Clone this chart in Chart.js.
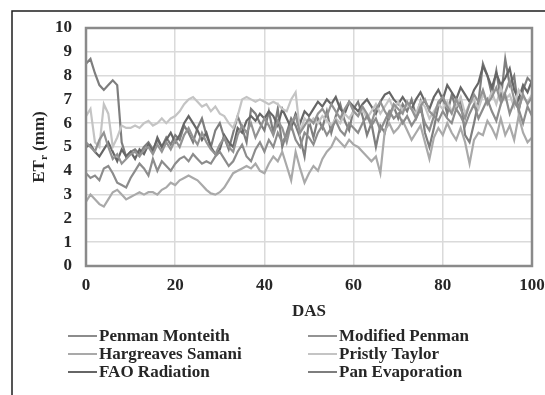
<!DOCTYPE html>
<html>
<head>
<meta charset="utf-8">
<script src="https://cdn.jsdelivr.net/npm/chart.js@4"></script>
<style>
html,body{margin:0;padding:0;background:#fff;}
#wrap{position:relative;width:545px;height:395px;}
</style>
</head>
<body>
<div id="wrap"><canvas id="c" width="545" height="395"></canvas></div>
<script>
// ---- DATA ----
const days = Array.from({length: 101}, (_, i) => i); // DAS 0..100 categories
const xTicks = [0, 20, 40, 60, 80, 100];
const yTicks = [0, 1, 2, 3, 4, 5, 6, 7, 8, 9, 10];
const seriesNames = ["Penman Monteith", "Modified Penman", "Hargreaves Samani", "Pristly Taylor", "FAO Radiation", "Pan Evaporation"];

const penmanMonteith = [
  3.9,3.7,3.8,3.6,4.1,4.2,3.9,3.5,3.4,3.3,3.7,
  4.0,4.3,4.1,3.8,4.5,4.0,4.4,4.2,4.0,4.3,
  4.5,4.6,4.4,4.7,4.5,4.3,4.4,4.3,4.6,4.8,
  4.5,4.2,4.4,4.8,5.1,4.6,4.4,4.9,5.2,4.8,
  5.3,5.0,5.6,5.2,5.5,5.9,5.3,5.0,5.6,5.4,
  5.1,5.6,5.9,5.5,5.8,6.1,5.7,5.5,6.0,5.8,
  5.6,6.0,6.3,5.9,6.2,5.7,6.1,6.5,6.2,6.4,
  6.0,6.3,5.9,6.2,6.6,6.0,5.7,6.3,6.1,6.5,
  6.2,6.0,6.6,6.3,5.9,6.4,6.8,6.2,6.6,7.0,
  6.5,6.1,6.8,7.2,6.4,6.9,6.6,6.0,6.7,6.3
];
const modifiedPenman = [
  5.2,5.0,4.8,5.3,5.6,5.0,4.5,4.7,4.3,4.5,4.7,
  4.8,4.6,4.9,5.0,4.7,5.1,4.8,5.2,4.9,5.3,
  5.0,5.5,5.8,5.4,5.1,5.6,5.2,4.9,4.7,5.1,
  5.4,5.0,4.8,5.5,5.9,5.6,6.0,5.4,5.8,6.2,
  5.9,5.5,6.1,5.8,5.2,6.0,6.3,5.6,5.9,6.2,
  6.0,6.4,6.6,6.3,6.8,6.5,6.2,6.6,6.9,6.5,
  6.3,6.7,6.4,6.0,6.6,6.9,6.5,6.2,6.8,6.6,
  6.4,6.9,6.6,6.2,6.7,7.0,6.5,6.3,6.9,7.1,
  6.7,6.4,7.0,6.6,6.2,6.8,7.2,6.9,7.4,6.8,
  7.1,7.5,6.9,7.3,7.8,7.0,6.6,7.2,6.8,7.1
];
const hargreavesSamani = [
  2.7,3.0,2.8,2.6,2.5,2.8,3.1,3.2,3.0,2.8,2.9,
  3.0,3.1,3.0,3.1,3.1,3.0,3.2,3.3,3.5,3.4,
  3.6,3.7,3.8,3.7,3.6,3.4,3.2,3.05,3.0,3.1,
  3.3,3.6,3.9,4.0,4.1,4.2,4.1,4.3,4.0,3.9,
  4.3,4.6,4.4,4.8,4.2,3.6,4.8,4.1,3.5,3.9,
  4.2,4.0,4.5,4.8,5.0,5.4,5.2,5.0,5.3,5.1,
  5.0,4.8,4.6,4.4,4.6,3.9,5.7,6.0,5.6,5.8,
  6.1,5.7,5.3,5.6,5.9,5.2,4.5,5.4,5.8,5.5,
  6.0,5.6,5.3,5.8,5.2,4.3,5.3,5.6,5.5,6.1,
  5.8,5.4,6.2,5.5,5.9,5.3,6.3,5.6,5.2,5.4
];
const pristlyTaylor = [
  6.3,6.6,5.2,5.0,6.8,6.4,5.0,5.4,5.9,5.8,5.8,
  5.9,5.8,6.0,6.1,5.9,6.0,6.2,6.0,6.2,6.3,
  6.5,6.8,7.0,7.1,6.9,6.7,6.8,6.5,6.7,6.4,
  6.3,6.0,5.8,6.3,7.0,7.1,7.0,6.9,7.0,6.9,
  6.8,6.9,6.8,6.6,6.5,7.0,7.3,5.6,6.2,6.0,
  6.2,6.0,6.3,6.1,5.9,6.2,6.0,6.4,6.2,6.5,
  6.3,6.6,6.2,6.5,6.8,6.4,6.7,7.0,6.6,6.9,
  6.5,6.8,6.6,6.4,6.9,6.7,6.2,6.5,6.8,6.6,
  6.9,6.5,6.7,7.1,6.4,6.8,7.0,6.6,7.2,6.9,
  7.3,6.8,7.5,7.0,7.2,6.7,7.4,7.1,6.9,7.2
];
const faoRadiation = [
  5.0,5.1,4.8,4.6,4.9,5.2,4.8,4.4,4.9,4.6,4.8,
  4.5,4.9,4.7,5.1,4.8,5.4,5.0,5.3,5.6,5.2,
  5.5,6.0,6.3,6.0,5.7,5.3,5.6,5.0,4.7,4.9,
  5.5,5.2,5.0,5.8,5.6,6.1,6.3,6.1,6.4,6.2,
  6.5,6.3,5.9,6.6,6.2,5.8,6.4,6.0,6.5,6.3,
  6.6,6.9,6.7,7.0,6.8,7.1,6.6,6.4,6.9,6.7,
  6.5,6.8,7.0,6.7,6.4,6.9,7.2,7.3,7.0,6.8,
  7.1,6.8,6.6,7.0,7.3,6.9,6.6,7.1,7.4,7.0,
  7.6,7.3,7.0,7.5,7.2,6.9,7.4,7.7,8.4,8.0,
  7.5,8.1,7.6,7.9,8.3,7.4,7.0,7.6,7.3,7.8
];
const panEvaporation = [
  8.5,8.7,8.1,7.6,7.4,7.6,7.8,7.6,5.2,4.6,4.8,
  4.9,4.7,5.0,5.2,4.9,5.3,5.0,5.4,5.1,5.5,
  5.3,5.9,5.6,5.2,5.8,6.2,5.5,5.0,5.7,6.0,
  5.4,4.9,5.6,6.3,5.8,5.2,6.6,6.4,6.0,5.7,
  6.5,5.6,6.6,5.0,5.6,6.2,5.9,5.4,4.6,6.1,
  5.4,6.2,5.8,6.5,5.6,6.3,6.8,6.1,5.7,6.6,
  6.9,6.3,5.5,6.0,5.0,5.9,5.6,6.4,6.7,6.2,
  6.8,6.5,7.0,6.3,6.9,5.6,5.0,5.8,6.7,7.1,
  6.4,7.2,6.6,7.0,5.5,5.2,6.0,6.9,8.5,8.0,
  7.2,8.2,7.0,8.7,7.6,8.0,6.5,7.4,7.9,7.7
];
const seriesValues = [penmanMonteith, modifiedPenman, hargreavesSamani, pristlyTaylor, faoRadiation, panEvaporation];
const seriesColors = ["#8c8c8c", "#939393", "#a9a9a9", "#c4c4c4", "#666666", "#7e7e7e"];

// ---- CHART ----
const FONT = '"Liberation Serif", "Times New Roman", serif';
const TXT = '#262626';

const decor = {
  id: 'decor',
  beforeDraw(chart) {
    const ctx = chart.ctx;
    ctx.save();
    ctx.fillStyle = '#fff';
    ctx.fillRect(0, 0, chart.width, chart.height);
    ctx.restore();
  },
  afterDraw(chart) {
    const ctx = chart.ctx;
    const a = chart.chartArea;
    ctx.save();
    // plot frame
    ctx.strokeStyle = '#8a8a8a';
    ctx.lineWidth = 2.5;
    ctx.strokeRect(a.left, a.top, a.right - a.left, a.bottom - a.top);
    // outer figure border (top and left)
    ctx.strokeStyle = '#1e1e1e';
    ctx.lineWidth = 1.5;
    ctx.beginPath();
    ctx.moveTo(12, chart.height);
    ctx.lineTo(12, 11);
    ctx.lineTo(chart.width, 11);
    ctx.stroke();

    // y axis title with subscript
    ctx.save();
    ctx.translate(38, (a.top + a.bottom) / 2);
    ctx.rotate(-Math.PI / 2);
    ctx.fillStyle = TXT;
    ctx.textBaseline = 'alphabetic';
    ctx.textAlign = 'left';
    const big = 'bold 17px ' + FONT, small = 'bold 11px ' + FONT;
    ctx.font = big; const w1 = ctx.measureText('ET').width;
    ctx.font = small; const w2 = ctx.measureText('r').width;
    ctx.font = big; const w3 = ctx.measureText(' (mm)').width;
    let x = -(w1 + w2 + w3) / 2;
    const base = 5.5;
    ctx.font = big; ctx.fillText('ET', x, base); x += w1;
    ctx.font = small; ctx.fillText('r', x, base + 3.5); x += w2;
    ctx.font = big; ctx.fillText(' (mm)', x, base);
    ctx.restore();

    // legend (2 columns x 3 rows)
    const cols = [68, 308], rows = [336, 354, 372];
    ctx.font = 'bold 17px ' + FONT;
    ctx.textBaseline = 'middle';
    ctx.textAlign = 'left';
    chart.data.datasets.forEach((ds, i) => {
      const cx = cols[i % 2], cy = rows[Math.floor(i / 2)];
      ctx.strokeStyle = ds.borderColor;
      ctx.lineWidth = 2;
      ctx.beginPath();
      ctx.moveTo(cx, cy);
      ctx.lineTo(cx + 29, cy);
      ctx.stroke();
      ctx.fillStyle = TXT;
      ctx.fillText(ds.label, cx + 31, cy + 1);
    });
    ctx.restore();
  }
};

new Chart(document.getElementById('c'), {
  type: 'line',
  data: {
    datasets: seriesNames.map((name, i) => ({
      label: name,
      data: days.map((d, j) => ({x: d, y: seriesValues[i][j]})),
      borderColor: seriesColors[i],
      backgroundColor: seriesColors[i],
      borderWidth: 2.2,
      pointRadius: 0,
      tension: 0,
      fill: false
    }))
  },
  options: {
    responsive: false,
    animation: false,
    devicePixelRatio: 1,
    layout: {padding: {left: 12, right: 13, top: 28, bottom: 69}},
    plugins: {legend: {display: false}, tooltip: {enabled: false}},
    scales: {
      x: {
        type: 'linear',
        min: 0, max: 100,
        afterBuildTicks(scale) { scale.ticks = xTicks.map(v => ({value: v})); },
        afterFit(scale) { scale.height = 60; scale.paddingLeft = 0; scale.paddingRight = 0; },
        grid: {color: '#dadada', lineWidth: 1.5, drawTicks: false},
        border: {display: false},
        ticks: {padding: 9, color: TXT, font: {family: FONT, size: 17, weight: 'bold'}, maxRotation: 0},
        title: {display: true, text: 'DAS', color: TXT, padding: {top: 0, bottom: 4},
                font: {family: FONT, size: 17, weight: 'bold'}}
      },
      y: {
        type: 'linear',
        min: 0, max: 10,
        afterBuildTicks(scale) { scale.ticks = yTicks.map(v => ({value: v})); },
        afterFit(scale) { scale.width = 74; scale.paddingTop = 0; scale.paddingBottom = 0; },
        grid: {color: '#dadada', lineWidth: 1.5, drawTicks: false},
        border: {display: false},
        ticks: {padding: 14, color: TXT, font: {family: FONT, size: 17, weight: 'bold'}}
      }
    }
  },
  plugins: [decor]
});
</script>
</body>
</html>
